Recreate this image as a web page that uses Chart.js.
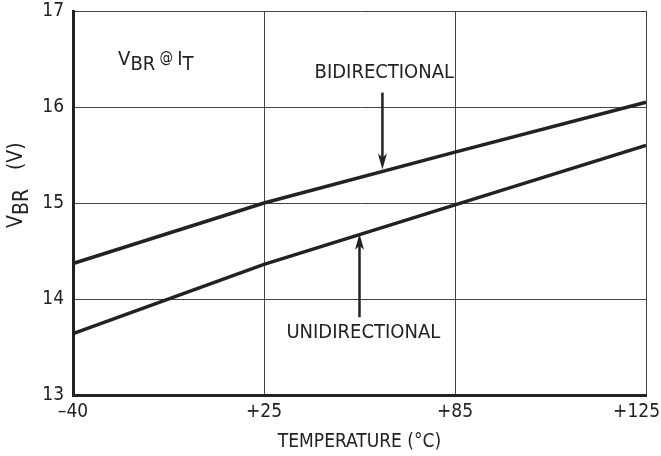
<!DOCTYPE html>
<html>
<head>
<meta charset="utf-8">
<script src="https://cdn.jsdelivr.net/npm/chart.js@4/dist/chart.umd.min.js"></script>
<style>
  html, body { margin: 0; padding: 0; background: #fff; }
  #wrap { width: 661px; height: 456px; }
</style>
</head>
<body>
<div id="wrap"><canvas id="vbrChart" width="661" height="456"></canvas></div>
<script>
// temperature categories (°C) and breakdown voltage (V)
const temps = ['\u201340', '+25', '+85', '+125'];
const bidirectional = [14.37, 15.0, 15.53, 16.05];
const unidirectional = [13.64, 14.36, 14.98, 15.6];
const yTicks = [13, 14, 15, 16, 17];

const FONT = "'Liberation Sans Narrow', 'DejaVu Sans Condensed', 'Arial Narrow', sans-serif";
const INK = '#222';

// draw a run of text pieces, each with its own size and vertical shift
function drawRuns(ctx, runs, x, y) {
  let cx = x;
  runs.forEach(([txt, size, dy]) => {
    ctx.font = size + 'px ' + FONT;
    ctx.fillText(txt, cx, y + dy);
    cx += ctx.measureText(txt).width;
  });
  return cx - x;
}

function arrow(ctx, x, y0, y1) {
  // shaft from y0, filled head with its tip at y1
  const dir = y1 > y0 ? 1 : -1;
  ctx.beginPath();
  ctx.moveTo(x, y0);
  ctx.lineTo(x, y1 - dir * 10);
  ctx.lineWidth = 2.5;
  ctx.strokeStyle = INK;
  ctx.stroke();
  ctx.beginPath();
  ctx.moveTo(x, y1);
  ctx.lineTo(x - 4.5, y1 - dir * 16);
  ctx.lineTo(x, y1 - dir * 12);
  ctx.lineTo(x + 4.5, y1 - dir * 16);
  ctx.closePath();
  ctx.fillStyle = INK;
  ctx.fill();
}

const annotate = {
  id: 'annotate',
  afterDraw(chart) {
    const { ctx, scales: { x, y } } = chart;
    ctx.save();
    ctx.fillStyle = INK;
    ctx.textBaseline = 'alphabetic';
    ctx.textAlign = 'left';

    // x tick labels, last one kept inside the canvas
    ctx.font = '19px ' + FONT;
    ctx.textBaseline = 'middle';
    temps.forEach((t, i) => {
      const w = ctx.measureText(t).width;
      let cx = x.getPixelForTick(i);
      cx = Math.min(cx, chart.width - 1 - w / 2);
      ctx.textAlign = 'center';
      ctx.fillText(t, cx, y.bottom + 17);
    });
    ctx.textBaseline = 'alphabetic';
    ctx.textAlign = 'left';

    // V_BR @ I_T label
    drawRuns(ctx, [['V', 20, 0], ['BR', 20, 5], [' @ ', 15, -3], ['I', 20, 0], ['T', 20, 5]],
      x.getPixelForValue(0.236), y.getPixelForValue(16.44));

    // BIDIRECTIONAL / UNIDIRECTIONAL labels + arrows
    ctx.font = '20px ' + FONT;
    ctx.textAlign = 'center';
    ctx.fillText('BIDIRECTIONAL', x.getPixelForValue(1.63), y.getPixelForValue(16.30));
    ctx.fillText('UNIDIRECTIONAL', x.getPixelForValue(1.52), y.getPixelForValue(13.59));
    const bx = x.getPixelForValue(1.62);
    arrow(ctx, bx, y.getPixelForValue(16.15), y.getPixelForValue(15.35));
    const ux = x.getPixelForValue(1.5);
    arrow(ctx, ux, y.getPixelForValue(13.81), y.getPixelForValue(14.68));

    // y axis title: V_BR (V), rotated
    ctx.textAlign = 'left';
    ctx.translate(22, 228);
    ctx.rotate(-Math.PI / 2);
    drawRuns(ctx, [['V', 21, 0], ['BR', 21, 6]], 0, 0);
    ctx.font = '21px ' + FONT;
    ctx.fillText('(V)', 58, 0);
    ctx.restore();
  }
};

const ctx = document.getElementById('vbrChart').getContext('2d');
new Chart(ctx, {
  type: 'line',
  data: {
    labels: temps,
    datasets: [
      { label: 'Bidirectional', data: bidirectional, borderColor: INK, borderWidth: 3.5, pointRadius: 0, tension: 0, fill: false },
      { label: 'Unidirectional', data: unidirectional, borderColor: INK, borderWidth: 3.5, pointRadius: 0, tension: 0, fill: false }
    ]
  },
  options: {
    responsive: false,
    animation: false,
    layout: { padding: { top: 11, right: 15, left: 0, bottom: 0 } },
    plugins: { legend: { display: false }, tooltip: { enabled: false } },
    scales: {
      x: {
        type: 'category',
        offset: false,
        grid: { color: '#444', lineWidth: 1, drawTicks: false },
        border: { color: INK, width: 3 },
        ticks: { display: false },
        title: { display: true, text: 'TEMPERATURE (\u00b0C)', color: INK, font: { family: FONT, size: 19 }, padding: { top: 2, bottom: 3 } },
        afterFit(scale) { scale.height = 61; scale.paddingLeft = 0; scale.paddingRight = 0; }
      },
      y: {
        min: 13,
        max: 17,
        afterBuildTicks(scale) { scale.ticks = yTicks.map(v => ({ value: v })); },
        grid: { color: '#444', lineWidth: 1, drawTicks: false },
        border: { color: INK, width: 3 },
        ticks: { color: INK, padding: 9, font: { family: FONT, size: 19 } },
        afterFit(scale) { scale.width = 73; scale.paddingTop = 0; scale.paddingBottom = 0; }
      }
    }
  },
  plugins: [annotate]
});
</script>
</body>
</html>
